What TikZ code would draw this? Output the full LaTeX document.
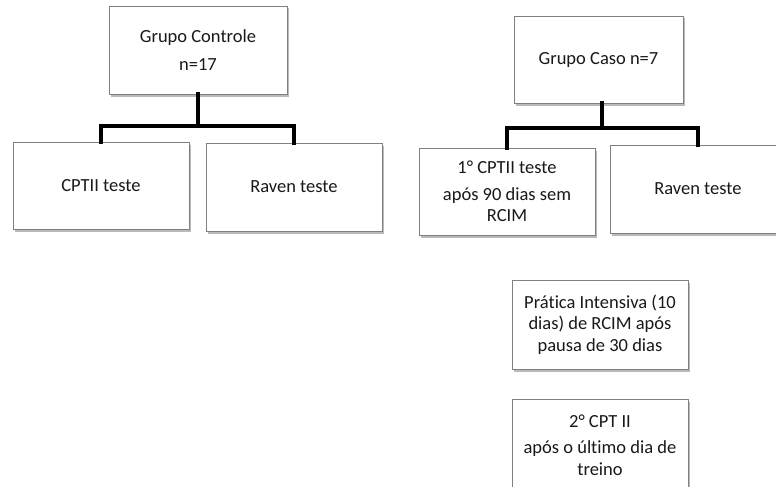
\documentclass[tikz,border=0pt]{standalone}
\usepackage{fontspec}
\setmainfont[Ligatures={NoCommon}]{Carlito}
\usetikzlibrary{shadows,calc}
\tikzset{
  box/.style={draw=black!50, line width=0.8pt, fill=white, align=center,
    font=\fontsize{18.5}{21.5}\selectfont, text=black!90, inner sep=0pt,
    drop shadow={shadow xshift=1.5pt, shadow yshift=-2.5pt, fill=black!45, opacity=0.6}},
  conn/.style={line width=4pt, draw=black, line cap=rect}
}
\begin{document}
\begin{tikzpicture}[x=1pt,y=-1pt]
\useasboundingbox (0,0) rectangle (776,487);
\clip (0,0) rectangle (776,487);
% left tree
\node[box, minimum width=178pt, minimum height=88pt] (ctrl) at (198,50) {Grupo Controle\\[6.5pt]n=17};
\node[box, minimum width=176pt, minimum height=87pt] (cpt1) at (101,185.5) {CPTII teste};
\node[box, minimum width=176pt, minimum height=88pt] (rav1) at (294,187) {Raven teste};
% right tree
\node[box, minimum width=169pt, minimum height=87pt] (caso) at (598.5,59.5) {Grupo Caso n=7};
\node[box, minimum width=176pt, minimum height=87pt] (cpt2) at (507,191.5) {1° CPTII teste\\[5pt]após 90 dias sem\\RCIM};
\node[box, minimum width=176pt, minimum height=88pt] (rav2) at (698,189) {Raven teste};
\node[box, minimum width=176pt, minimum height=89pt] (prat) at (600,324.5) {Prática Intensiva (10\\dias) de RCIM após\\pausa de 30 dias};
\node[box, minimum width=176pt, minimum height=92pt] (cpt3) at (600,445) {2° CPT II\\[5pt]após o último dia de\\treino};
% connectors
\coordinate (j1) at ($(ctrl.south)+(0,32)$);
\draw[conn] (ctrl.south) -- (j1);
\draw[conn] (j1) -| (cpt1.north);
\draw[conn] (j1) -| (rav1.north);
\coordinate (j2) at ($(caso.south)+(3,25)$);
\draw[conn] (caso.south -| j2) -- (j2);
\draw[conn] (j2) -| (cpt2.north);
\draw[conn] (j2) -| (rav2.north);
\end{tikzpicture}
\end{document}
